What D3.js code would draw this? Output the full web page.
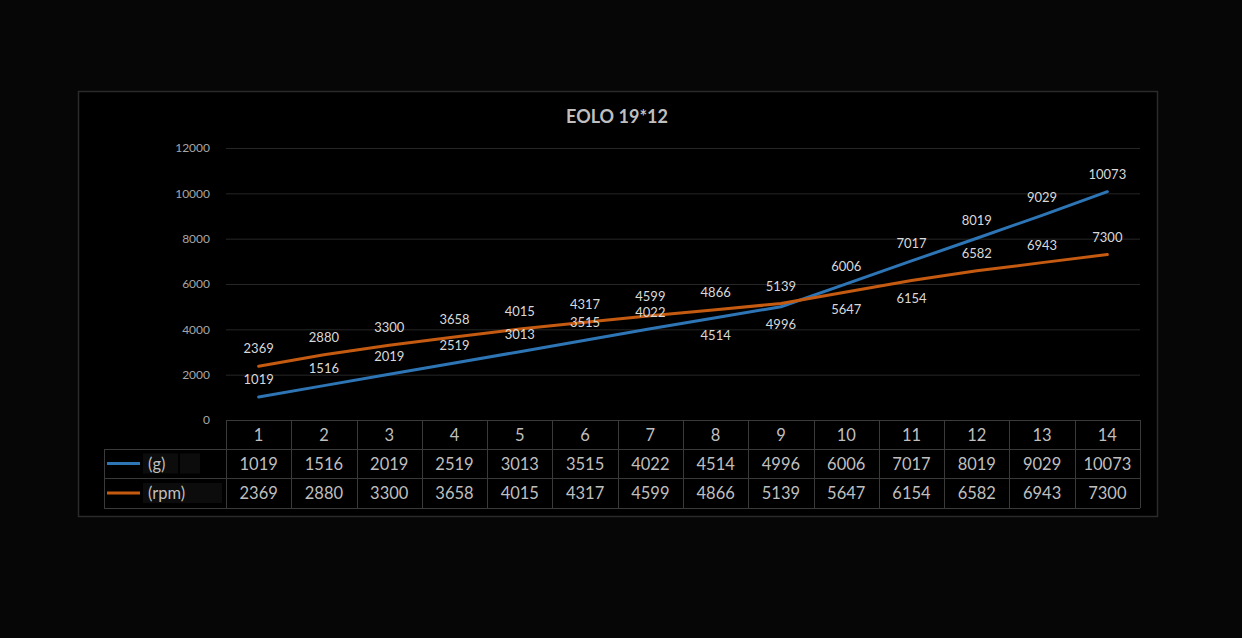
<!DOCTYPE html>
<html><head><meta charset="utf-8">
<script src="https://cdn.jsdelivr.net/npm/d3@7/dist/d3.min.js"></script>
<style>html,body{margin:0;padding:0;background:#060606;}svg{display:block;}</style>
</head><body>
<script>
const title = "EOLO 19*12";
const categories = [1,2,3,4,5,6,7,8,9,10,11,12,13,14];
const seriesNames = ["(g)", "(rpm)"];
const gValues = [1019,1516,2019,2519,3013,3515,4022,4514,4996,6006,7017,8019,9029,10073];
const rpmValues = [2369,2880,3300,3658,4015,4317,4599,4866,5139,5647,6154,6582,6943,7300];
const gLabelPos = ["a","a","a","a","a","a","a","b","b","a","a","a","a","a"];
const rpmLabelPos = ["a","a","a","a","a","a","a","a","a","b","b","a","a","a"];
const yTicks = [0,2000,4000,6000,8000,10000,12000];
const colors = ["#2E75B6", "#C55A11"];

const W = 1242, H = 638;
const font = "Lato, 'Open Sans', sans-serif";
const svg = d3.select("body").append("svg").attr("width", W).attr("height", H);
svg.append("rect").attr("width", W).attr("height", H).attr("fill", "#060606");
svg.append("rect").attr("x", 78.5).attr("y", 91.5).attr("width", 1079).attr("height", 425)
  .attr("fill", "#000").attr("stroke", "#2b2b2b").attr("stroke-width", 1.5);

svg.append("text").attr("x", 617).attr("y", 123).attr("text-anchor", "middle")
  .attr("font-family", font).attr("font-weight", "bold").attr("font-size", 18)
  .attr("fill", "#bfbfbf").text(title);

const x = d3.scaleBand().domain(categories).range([226, 1140]);
const cx = d => x(d) + x.bandwidth() / 2;
const y = d3.scaleLinear().domain([0, 12000]).range([420, 148]);

// gridlines
svg.append("g").selectAll("line").data(yTicks.filter(t => t > 0)).join("line")
  .attr("x1", 226).attr("x2", 1140).attr("y1", d => y(d) + 0.5).attr("y2", d => y(d) + 0.5)
  .attr("stroke", "#262626").attr("stroke-width", 1);

// y axis labels
const yAxis = d3.axisLeft(y).tickValues(yTicks).tickFormat(d3.format("d")).tickSize(0).tickPadding(16);
const ya = svg.append("g").attr("transform", "translate(226,0)").call(yAxis);
ya.select(".domain").remove();
ya.selectAll("text").attr("font-family", font).attr("font-size", 12).attr("fill", "#a6a6a6");

// lines
const series = [gValues, rpmValues];
const labelPos = [gLabelPos, rpmLabelPos];
const line = d3.line().x((d, i) => cx(categories[i])).y(d => y(d));
series.forEach((vals, s) => {
  svg.append("path").datum(vals).attr("d", line).attr("fill", "none")
    .attr("stroke", colors[s]).attr("stroke-width", 3).attr("stroke-linecap", "round").attr("stroke-linejoin", "round");
});
const labelSize = 13;
series.forEach((vals, s) => {
  svg.append("g").selectAll("text").data(vals).join("text")
    .attr("x", (d, i) => cx(categories[i]))
    .attr("y", (d, i) => {
      let yy = labelPos[s][i] === "a" ? y(d) - 13 : y(d) + 22;
      // keep the two closely stacked labels at category 7 apart
      if (i === 6) yy += s === 1 ? -2 : 1;
      return yy;
    })
    .attr("text-anchor", "middle").attr("font-family", font).attr("font-size", labelSize)
    .attr("fill", "#d9d9d9").text(d => d);
});

// data table
const rowY = [420, 449, 478, 508];
const tg = svg.append("g");
const bc = "#3a3a3a";
tg.append("line").attr("x1", 226).attr("x2", 1140).attr("y1", rowY[0] + 0.5).attr("y2", rowY[0] + 0.5).attr("stroke", bc);
[1, 2, 3].forEach(r => {
  tg.append("line").attr("x1", 104).attr("x2", 1140).attr("y1", rowY[r] + 0.5).attr("y2", rowY[r] + 0.5).attr("stroke", bc);
});
tg.append("line").attr("x1", 104.5).attr("x2", 104.5).attr("y1", rowY[1]).attr("y2", rowY[3]).attr("stroke", bc);
const colEdges = categories.map(c => x(c)).concat([1140]);
tg.selectAll("line.v").data(colEdges).join("line").attr("class", "v")
  .attr("x1", d => Math.round(d) + 0.5).attr("x2", d => Math.round(d) + 0.5)
  .attr("y1", rowY[0]).attr("y2", rowY[3]).attr("stroke", bc);

const tFont = 16.5, tCol = "#bfbfbf";
tg.selectAll("text.h").data(categories).join("text").attr("class", "h")
  .attr("x", d => cx(d)).attr("y", (rowY[0] + rowY[1]) / 2 + 6)
  .attr("text-anchor", "middle").attr("font-family", font).attr("font-size", tFont).attr("fill", tCol).text(d => d);
series.forEach((vals, s) => {
  const ry = (rowY[s + 1] + rowY[s + 2]) / 2;
  tg.append("g").selectAll("text").data(vals).join("text")
    .attr("x", (d, i) => cx(categories[i])).attr("y", ry + 6)
    .attr("text-anchor", "middle").attr("font-family", font).attr("font-size", tFont).attr("fill", tCol).text(d => d);
  // legend key
  tg.append("rect").attr("x", 143).attr("y", ry - 10).attr("width", s === 0 ? 35 : 50).attr("height", 20).attr("fill", "#0c0c0c");
  tg.append("rect").attr("x", s === 0 ? 180 : 190).attr("y", ry - 10).attr("width", s === 0 ? 20 : 32).attr("height", 20).attr("fill", "#0c0c0c");
  tg.append("line").attr("x1", 107).attr("x2", 140).attr("y1", ry).attr("y2", ry)
    .attr("stroke", colors[s]).attr("stroke-width", 3);
  tg.append("text").attr("x", 148).attr("y", ry + 6).attr("font-family", font).attr("font-size", tFont)
    .attr("fill", tCol).text(seriesNames[s]);
});
</script>
</body></html>
